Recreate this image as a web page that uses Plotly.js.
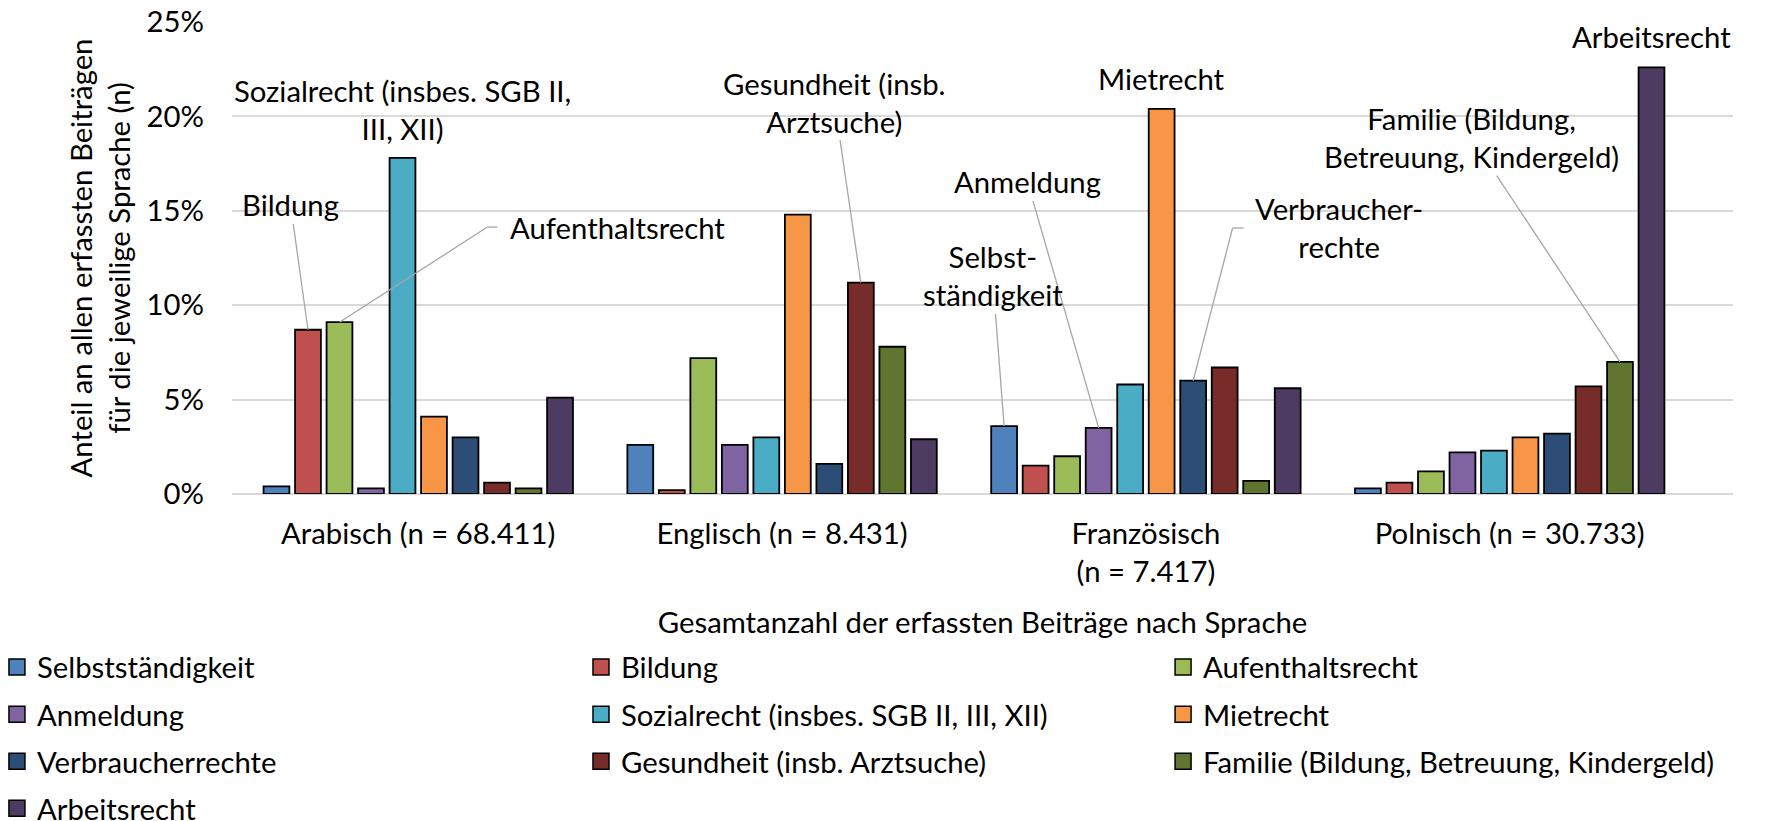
<!DOCTYPE html>
<html>
<head>
<meta charset="utf-8">
<script src="https://cdn.plot.ly/plotly-3.0.1.min.js"></script>
<style>
  html, body { margin: 0; padding: 0; background: #fff; }
  #chart { width: 1788px; height: 821px; }
</style>
</head>
<body>
<div id="chart"></div>
<script>
// ---- Data (shares in %) ----
const categories = ['Arabisch (n = 68.411)', 'Englisch (n = 8.431)', 'Französisch<br>(n = 7.417)', 'Polnisch (n = 30.733)'];
const seriesNames = ['Selbstständigkeit', 'Bildung', 'Aufenthaltsrecht', 'Anmeldung',
  'Sozialrecht (insbes. SGB II, III, XII)', 'Mietrecht', 'Verbraucherrechte',
  'Gesundheit (insb. Arztsuche)', 'Familie (Bildung, Betreuung, Kindergeld)', 'Arbeitsrecht'];
const selbststaendigkeit = [0.4, 2.6, 3.6, 0.3];
const bildung            = [8.7, 0.2, 1.5, 0.6];
const aufenthaltsrecht   = [9.1, 7.2, 2.0, 1.2];
const anmeldung          = [0.3, 2.6, 3.5, 2.2];
const sozialrecht        = [17.8, 3.0, 5.8, 2.3];
const mietrecht          = [4.1, 14.8, 20.4, 3.0];
const verbraucherrechte  = [3.0, 1.6, 6.0, 3.2];
const gesundheit         = [0.6, 11.2, 6.7, 5.7];
const familie            = [0.3, 7.8, 0.7, 7.0];
const arbeitsrecht       = [5.1, 2.9, 5.6, 22.6];
const seriesValues = [selbststaendigkeit, bildung, aufenthaltsrecht, anmeldung, sozialrecht,
  mietrecht, verbraucherrechte, gesundheit, familie, arbeitsrecht];
const yTickVals = [0, 5, 10, 15, 20, 25];
const yTickText = yTickVals.map(v => v + '%');

// ---- Style ----
const colors = ['#4F81BD', '#C0504D', '#9BBB59', '#8064A2', '#4BACC6', '#F79646', '#2C4D75', '#772C2A', '#5F7530', '#4D3B62'];
const FONT = 'Lato, "Noto Sans", sans-serif';
const FS = 29.3;
const BARGAP = 0.134;
const nS = seriesNames.length;
const legendIds = ['legend', 'legend2', 'legend3'];
const LEADER = '#A6A6A6';

const barTraces = seriesNames.map((name, i) => ({
  type: 'bar',
  name: name,
  x: categories,
  y: seriesValues[i],
  marker: { color: colors[i], line: { color: '#000000', width: 1.8 } },
  showlegend: false,
  legendgroup: 'g' + i,
  hoverinfo: 'skip'
}));

// legend entries (square swatches, no data)
const legendTraces = seriesNames.map((name, i) => ({
  type: 'scatter', mode: 'markers',
  name: name, x: [null], y: [null],
  marker: { symbol: 'square', size: 16, color: colors[i], line: { color: '#000000', width: 1.5 } },
  legend: legendIds[i % 3],
  legendgroup: 'g' + i,
  showlegend: true,
  hoverinfo: 'skip'
}));

// position of bar (series s, category c) on the category axis
function barX(s, c) { return c + (s - (nS - 1) / 2) * (1 - BARGAP) / nS; }
function val(s, c) { return seriesValues[s][c]; }

const callouts = [
  { s: 1, c: 0, text: 'Bildung', tx: -0.3508, ty: 15.31, anchor: 'center', arrow: true },
  { s: 2, c: 0, text: 'Aufenthaltsrecht', tx: 0.1902, ty: 14.14, anchor: 'left', arrow: true, pad: 22, elbow: 10 },
  { s: 7, c: 1, text: 'Gesundheit (insb.<br>Arztsuche)', tx: 1.1442, ty: 20.76, anchor: 'center', arrow: true },
  { s: 3, c: 2, text: 'Anmeldung', tx: 1.6745, ty: 16.53, anchor: 'center', arrow: true },
  { s: 0, c: 2, text: 'Selbst-<br>ständigkeit', tx: 1.5786, ty: 11.55, anchor: 'center', arrow: true },
  { s: 6, c: 2, text: 'Verbraucher-<br>rechte', tx: 2.2382, ty: 14.09, anchor: 'left', arrow: true, pad: 21, elbow: 11 },
  { s: 8, c: 3, text: 'Familie (Bildung,<br>Betreuung, Kindergeld)', tx: 2.8951, ty: 18.88, anchor: 'center', arrow: true },
  { s: 4, c: 0, text: 'Sozialrecht (insbes. SGB II,<br>III, XII)', ty: 20.39, arrow: false },
  { s: 5, c: 2, text: 'Mietrecht', ty: 22.03, arrow: false },
  { s: 9, c: 3, text: 'Arbeitsrecht', ty: 24.21, arrow: false }
];

const annotations = callouts.map(a => {
  const base = {
    text: a.text, font: { family: FONT, size: FS, color: '#000' }, align: 'center'
  };
  if (a.arrow) {
    return Object.assign(base, {
      x: barX(a.s, a.c), y: val(a.s, a.c), xref: 'x', yref: 'y',
      ax: a.tx, ay: a.ty, axref: 'x', ayref: 'y',
      showarrow: true, arrowhead: 0, arrowwidth: 1.3, arrowcolor: LEADER,
      standoff: 0, startstandoff: 0,
      xanchor: a.anchor, yanchor: 'middle', borderpad: a.pad || 1
    });
  }
  return Object.assign(base, {
    x: barX(a.s, a.c), y: a.ty, xref: 'x', yref: 'y',
    showarrow: false, xanchor: 'center', yanchor: 'middle'
  });
});

// short horizontal elbow segments of the leader lines
const shapes = callouts.filter(a => a.elbow).map(a => ({
  type: 'line', xref: 'x', yref: 'y', xsizemode: 'pixel', xanchor: a.tx,
  x0: 0, x1: a.elbow, y0: a.ty, y1: a.ty,
  line: { color: LEADER, width: 1.3 }
}));

const legendCommon = {
  orientation: 'v', xref: 'paper', yref: 'paper', xanchor: 'left', yanchor: 'top',
  y: -0.3125, font: { family: FONT, size: FS, color: '#000' }, tracegroupgap: 6,
  itemsizing: 'trace', bgcolor: 'rgba(0,0,0,0)', borderwidth: 0
};

const layout = {
  width: 1788, height: 821,
  margin: { l: 232, r: 55, t: 22, b: 327, pad: 0, autoexpand: false },
  paper_bgcolor: '#ffffff', plot_bgcolor: '#ffffff',
  font: { family: FONT, size: FS, color: '#000' },
  barmode: 'group', bargap: BARGAP, bargroupgap: 0.18,
  showlegend: true,
  legend: Object.assign({}, legendCommon, { x: -0.1566 }),
  legend2: Object.assign({}, legendCommon, { x: 0.2325 }),
  legend3: Object.assign({}, legendCommon, { x: 0.6203 }),
  xaxis: {
    type: 'category', automargin: false, categoryorder: 'array', categoryarray: categories,
    showgrid: false, showline: false, zeroline: false, ticks: '',
    ticklabelstandoff: 20,
    tickfont: { family: FONT, size: FS, color: '#000' },
    title: { text: 'Gesamtanzahl der erfassten Beiträge nach Sprache', standoff: 25,
             font: { family: FONT, size: FS, color: '#000' } }
  },
  yaxis: {
    range: [0, 25], tickmode: 'array', tickvals: yTickVals, ticktext: yTickText, automargin: false,
    showgrid: true, gridcolor: '#D9D9D9', gridwidth: 1.5,
    zeroline: true, zerolinecolor: '#D9D9D9', zerolinewidth: 2,
    showline: false, ticks: '', ticklabelstandoff: 27,
    tickfont: { family: FONT, size: FS, color: '#000' },
    title: { text: 'Anteil an allen erfassten Beiträgen<br>für die jeweilige Sprache (n)', standoff: 7,
             font: { family: FONT, size: FS, color: '#000' } }
  },
  annotations: annotations,
  shapes: shapes,
  hovermode: false
};

Plotly.newPlot('chart', barTraces.concat(legendTraces), layout, { displayModeBar: false, responsive: false });
</script>
</body>
</html>
